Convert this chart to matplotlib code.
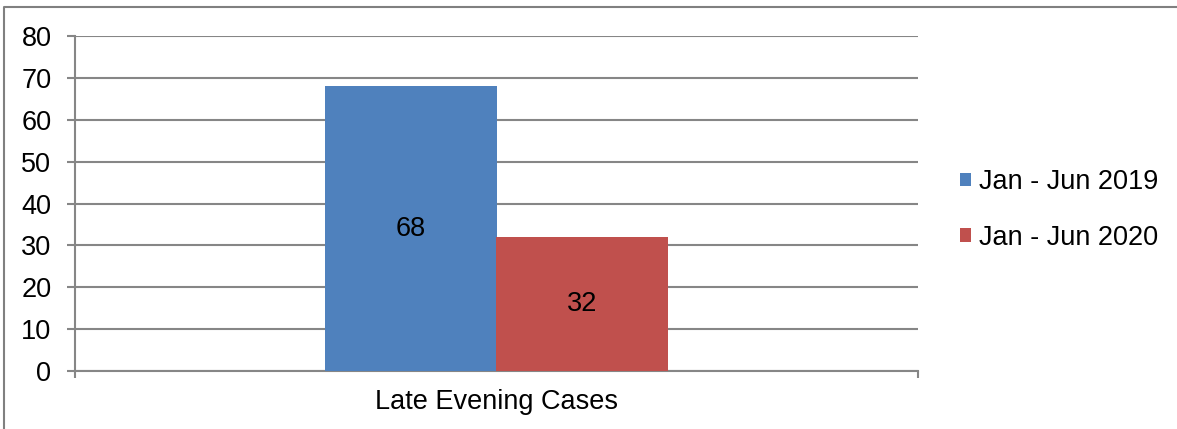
import matplotlib
matplotlib.use("Agg")
import matplotlib.pyplot as plt
from matplotlib.lines import Line2D
from matplotlib.patches import Patch

plt.rcParams['font.family'] = ['Liberation Sans', 'DejaVu Sans']

categories = ["Late Evening Cases"]
series_names = ["Jan - Jun 2019", "Jan - Jun 2020"]
values_2019 = [68]
values_2020 = [32]
colors = ["#4F81BD", "#C0504D"]
y_ticks = [0, 10, 20, 30, 40, 50, 60, 70, 80]

FS = 19.5
W, H = 1177, 429
fig = plt.figure(figsize=(W / 100, H / 100), dpi=100)
ax = fig.add_axes([75 / W, 1 - 371 / H, (918 - 75) / W, (371 - 36) / H])

bar_w = 0.203
ax.bar([0 - bar_w / 2], values_2019, width=bar_w, color=colors[0], zorder=3)
ax.bar([0 + bar_w / 2], values_2020, width=bar_w, color=colors[1], zorder=3)

for x, v in zip([-bar_w / 2, bar_w / 2], [values_2019[0], values_2020[0]]):
    ax.text(x, v / 2, str(v), ha="center", va="center", fontsize=FS, color="black", zorder=4)

ax.set_xlim(-0.5, 0.5)
ax.set_ylim(0, 80)
ax.set_yticks(y_ticks)
ax.set_yticklabels([str(t) for t in y_ticks], fontsize=FS)

grid_color = "#868686"
ax.yaxis.grid(True, color=grid_color, linewidth=1.5, zorder=0)
ax.set_axisbelow(True)

for s in ["top", "right"]:
    ax.spines[s].set_visible(False)
for s in ["left", "bottom"]:
    ax.spines[s].set_color(grid_color)
    ax.spines[s].set_linewidth(1.5)

ax.tick_params(axis="y", length=6, width=1.5, color=grid_color, pad=11)

# Category boundaries as ticks, the label as a tickless minor tick
ax.set_xticks([-0.5, 0.5])
ax.set_xticklabels(["", ""])
ax.tick_params(axis="x", which="major", length=5, width=1.5, color=grid_color)
ax.set_xticks([0], minor=True)
ax.set_xticklabels(categories, minor=True, fontsize=FS)
ax.tick_params(axis="x", which="minor", length=0, pad=13)

handles = [Patch(facecolor=c, edgecolor="none") for c in colors]
fig.legend(handles, series_names, loc="center left",
           bbox_to_anchor=(936 / W, 1 - 210 / H), frameon=False,
           fontsize=FS, handlelength=0.4, handleheight=0.4,
           handletextpad=0.3, labelspacing=1.1)

# Outer chart-area frame (top and left edges)
fig.add_artist(Line2D([4 / W, 4 / W, 1.0], [0.0, 1 - 7 / H, 1 - 7 / H],
                      transform=fig.transFigure, color="#808080", linewidth=1.5))

fig.savefig("out.png", dpi=100)
